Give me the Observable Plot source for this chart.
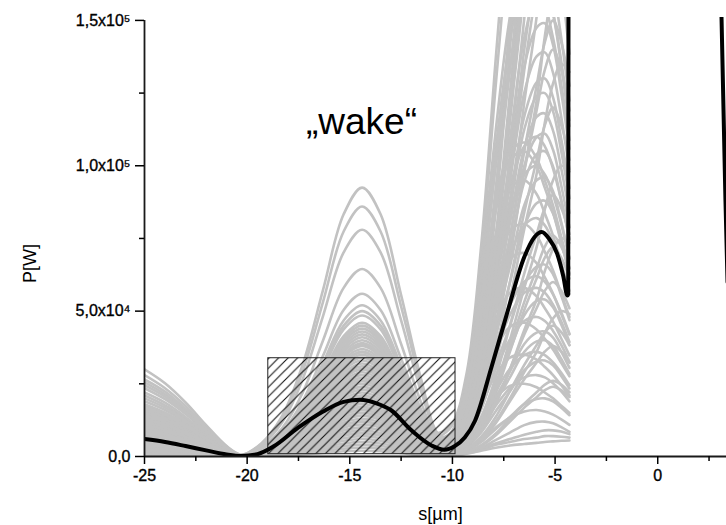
<!DOCTYPE html>
<html><head><meta charset="utf-8">
<script src="https://cdn.jsdelivr.net/npm/d3@7"></script>
<script src="https://cdn.jsdelivr.net/npm/@observablehq/plot@0.6"></script>
<style>
body{margin:0;background:#fff;}
g[aria-label$="tick label"] text{stroke:#000;stroke-width:0.35px;}
</style>
</head><body><div id="chart"></div>
<script>
// s positions (µm) shared by all grey shots
const gridS = [-25, -24, -23, -22, -21, -20.3, -19.3, -18.3, -17.3, -16.3, -15.3, -14.4, -13.5, -12.5, -11.5, -10.7, -10, -9.3, -8.6, -7.9, -7.2, -6.5, -5.9, -5.5, -5.1, -4.7, -4.3];
// grey shots, power in kW at gridS
const greyKW = [
[30, 25.2, 18.6, 10.8, 3.6, 0.6, 1.9, 5.7, 12.9, 23.6, 34.2, 38, 34.2, 22.8, 10.6, 8.1, 11.6, 29, 72.5, 136, 197, 261, 287, 290, 276, 244, 206],
[28, 23.5, 17.4, 10.1, 3.4, 0.6, 4.3, 12.9, 29.2, 53.3, 77.4, 86, 77.4, 51.6, 24.1, 6.7, 3, 9, 22.5, 45, 75, 105, 127.5, 142.5, 150, 142.5, 127.5],
[25.5, 21.4, 15.8, 9.2, 3.1, 0.5, 1, 3, 6.8, 12.4, 18, 20, 18, 12, 5.6, 6.6, 10.8, 27, 67.5, 127, 184, 243, 267, 270, 256, 227, 192],
[23.5, 19.7, 14.6, 8.5, 2.8, 0.5, 4.6, 13.9, 31.5, 57.4, 83.3, 92.5, 83.3, 55.5, 25.9, 7.8, 5.5, 15.4, 39.6, 68.2, 92.4, 106.7, 110, 106.7, 99, 88, 74.8],
[21, 17.6, 13, 7.6, 2.5, 0.4, 1.5, 4.5, 10.2, 18.6, 27, 30, 27, 18, 8.4, 4.3, 5, 15, 37.5, 75, 125, 175, 212, 237, 250, 237, 212],
[19, 16, 11.8, 6.8, 2.3, 0.4, 3.2, 9.7, 21.9, 40, 58, 64.5, 58, 38.7, 18.1, 5.9, 4, 12, 30, 60, 100, 140, 170, 190, 200, 190, 170],
[17.5, 14.7, 10.9, 6.3, 2.1, 0.4, 0.6, 1.8, 4.1, 7.4, 10.8, 12, 10.8, 7.2, 3.4, 4.3, 9, 25.2, 64.8, 111.6, 151.2, 174.6, 180, 174.6, 162, 144, 122.4],
[16.5, 13.9, 10.2, 5.9, 2, 0.3, 3.9, 11.7, 26.5, 48.4, 70.2, 78, 70.2, 46.8, 21.8, 7.7, 6, 14.9, 37.3, 70, 101.3, 134.1, 147.5, 149, 141.6, 125.2, 105.8],
[15.5, 13, 9.6, 5.6, 1.9, 0.3, 2.3, 6.9, 15.6, 28.5, 41.4, 46, 41.4, 27.6, 12.9, 5.6, 5.6, 13.9, 34.8, 65.3, 94.5, 125.1, 137.6, 139, 132, 116.8, 98.7],
[14.5, 12.2, 9, 5.2, 1.7, 0.3, 1.3, 3.9, 8.8, 16.1, 23.4, 26, 23.4, 15.6, 7.3, 4.1, 5, 12.5, 31.3, 58.8, 85, 112.5, 123.8, 125, 118.8, 105, 88.8],
[14, 11.8, 8.7, 5, 1.7, 0.3, 2.8, 8.4, 19, 34.7, 50.4, 56, 50.4, 33.6, 15.7, 5.6, 4.4, 11.1, 27.8, 52.2, 75.5, 99.9, 109.9, 111, 105.5, 93.2, 78.8],
[13, 10.9, 8.1, 4.7, 1.6, 0.3, 0.4, 1.2, 2.7, 5, 7.2, 8, 7.2, 4.8, 2.2, 3.9, 8.5, 23.8, 61.2, 105.4, 142.8, 164.9, 170, 164.9, 153, 136, 115.6],
[12.5, 10.5, 7.8, 4.5, 1.5, 0.3, 2.4, 7.3, 16.5, 30.1, 43.7, 48.5, 43.7, 29.1, 13.6, 5.9, 6, 18, 45, 90, 150, 210, 255, 285, 300, 285, 255],
[12, 10.1, 7.4, 4.3, 1.4, 0.2, 1.7, 5.1, 11.6, 21.1, 30.6, 34, 30.6, 20.4, 9.5, 3.8, 3.5, 8.8, 22, 41.4, 59.8, 79.2, 87.1, 88, 83.6, 73.9, 62.5],
[11, 9.2, 6.8, 4, 1.3, 0.2, 0.8, 2.4, 5.4, 9.9, 14.4, 16, 14.4, 9.6, 4.5, 4.2, 8, 22.4, 57.6, 99.2, 134.4, 155.2, 160, 155.2, 144, 128, 108.8],
[10.5, 8.8, 6.5, 3.8, 1.3, 0.2, 2.2, 6.6, 15, 27.3, 39.6, 44, 39.6, 26.4, 12.3, 4.2, 4.1, 11.5, 29.5, 50.8, 68.9, 79.5, 82, 79.5, 73.8, 65.6, 55.8],
[10, 8.4, 6.2, 3.6, 1.2, 0.2, 1.1, 3.3, 7.5, 13.6, 19.8, 22, 19.8, 13.2, 6.2, 2.6, 2.6, 6.6, 16.5, 31, 44.9, 59.4, 65.3, 66, 62.7, 55.4, 46.9],
[9.5, 8, 5.9, 3.4, 1.1, 0.2, 2.1, 6.3, 14.3, 26, 37.8, 42, 37.8, 25.2, 11.8, 3.1, 1.2, 3.6, 9, 18, 30, 42, 51, 57, 60, 57, 51],
[9, 7.6, 5.6, 3.2, 1.1, 0.2, 0.5, 1.5, 3.4, 6.2, 9, 10, 9, 6, 2.8, 2, 2.8, 8.4, 21, 42, 70, 98, 119, 133, 140, 133, 119],
[8.5, 7.1, 5.3, 3.1, 1, 0.2, 1.8, 5.4, 12.2, 22.3, 32.4, 36, 32.4, 21.6, 10.1, 3.3, 2.2, 5.4, 13.5, 25.4, 36.7, 48.6, 53.5, 54, 51.3, 45.4, 38.3],
[8, 6.7, 5, 2.9, 1, 0.2, 1.4, 4.2, 9.5, 17.4, 25.2, 28, 25.2, 16.8, 7.8, 2.7, 2.4, 6.7, 17.3, 29.8, 40.3, 46.6, 48, 46.6, 43.2, 38.4, 32.6],
[7.5, 6.3, 4.7, 2.7, 0.9, 0.2, 2, 6, 13.6, 24.8, 36, 40, 36, 24, 11.2, 3.3, 1.7, 4.3, 10.8, 20.2, 29.2, 38.7, 42.6, 43, 40.9, 36.1, 30.5],
[7, 5.9, 4.3, 2.5, 0.8, 0.1, 0.3, 0.9, 2, 3.7, 5.4, 6, 5.4, 3.6, 1.7, 0.8, 0.8, 2.3, 5.7, 11.4, 19, 26.6, 32.3, 36.1, 38, 36.1, 32.3],
[6.5, 5.5, 4, 2.3, 0.8, 0.1, 1.6, 4.8, 10.9, 19.8, 28.8, 32, 28.8, 19.2, 9, 2.6, 1.3, 3.3, 8.3, 15.5, 22.4, 29.7, 32.7, 33, 31.4, 27.7, 23.4],
[6, 5, 3.7, 2.2, 0.7, 0.1, 0.9, 2.7, 6.1, 11.2, 16.2, 18, 16.2, 10.8, 5, 1.7, 1.4, 3.9, 10.1, 17.4, 23.5, 27.2, 28, 27.2, 25.2, 22.4, 19],
[5.5, 4.6, 3.4, 2, 0.7, 0.1, 1.2, 3.6, 8.2, 14.9, 21.6, 24, 21.6, 14.4, 6.7, 1.6, 0.5, 1.4, 3.6, 7.2, 12, 16.8, 20.4, 22.8, 24, 22.8, 20.4],
[5, 4.2, 3.1, 1.8, 0.6, 0.1, 0.7, 2.1, 4.8, 8.7, 12.6, 14, 12.6, 8.4, 3.9, 1.2, 0.8, 2, 5, 9.4, 13.6, 18, 19.8, 20, 19, 16.8, 14.2],
[4.5, 3.8, 2.8, 1.6, 0.5, 0.1, 1.5, 4.5, 10.2, 18.6, 27, 30, 27, 18, 8.4, 2.1, 0.8, 2.2, 5.8, 9.9, 13.4, 15.5, 16, 15.5, 14.4, 12.8, 10.9],
[4, 3.4, 2.5, 1.4, 0.5, 0.1, 0.2, 0.6, 1.4, 2.5, 3.6, 4, 3.6, 2.4, 1.1, 0.4, 0.5, 1.2, 3, 5.6, 8.2, 10.8, 11.9, 12, 11.4, 10.1, 8.5],
[3.5, 2.9, 2.2, 1.3, 0.4, 0.1, 1.9, 5.8, 13.1, 23.9, 34.7, 38.5, 34.7, 23.1, 10.8, 2.4, 0.5, 1.2, 2.5, 4.5, 6, 7.5, 8.5, 9, 9, 8.6, 7.7],
[3, 2.5, 1.9, 1.1, 0.4, 0.1, 0.6, 1.8, 4.1, 7.4, 10.8, 12, 10.8, 7.2, 3.4, 0.8, 0.4, 1, 2.2, 4, 5, 6, 6.5, 7, 7, 6.8, 6.5],
[2.5, 2.1, 1.6, 0.9, 0.3, 0, 1.4, 4.1, 9.2, 16.7, 24.3, 27, 24.3, 16.2, 7.6, 2.8, 2.4, 7.2, 18, 36, 60, 84, 102, 114, 120, 114, 102],
[2, 1.7, 1.2, 0.7, 0.2, 0, 1, 3, 6.8, 12.4, 18, 20, 18, 12, 5.6, 3.2, 5, 14, 36, 62, 84, 97, 100, 97, 90, 80, 68],
[1.5, 1.3, 0.9, 0.5, 0.2, 0, 0.4, 1.2, 2.7, 5, 7.2, 8, 7.2, 4.8, 2.2, 1.2, 1.4, 4.3, 10.8, 21.6, 36, 50.4, 61.2, 68.4, 72, 68.4, 61.2],
[1, 0.8, 0.6, 0.4, 0.1, 0, 0.8, 2.4, 5.4, 9.9, 14.4, 16, 14.4, 9.6, 4.5, 3.3, 4.6, 13.8, 34.5, 69, 115, 161, 195.5, 218.5, 230, 218.5, 195.5],
[0.5, 0.4, 0.3, 0.2, 0.1, 0, 0.2, 0.5, 1, 1.9, 2.7, 3, 2.7, 1.8, 0.8, 0.2, 0.3, 1, 2, 3, 3.8, 4.3, 4.7, 5, 5.2, 5.4, 5.5],
[18, 15.1, 11.2, 6.5, 2.2, 0.4, 0.3, 0.8, 1.7, 3.1, 4.5, 5, 4.5, 3, 1.4, 0.8, 0.9, 2.7, 6.8, 13.5, 22.5, 31.5, 38.3, 42.8, 45, 42.8, 38.3],
[16, 13.4, 9.9, 5.8, 1.9, 0.3, 1.8, 5.3, 11.9, 21.7, 31.5, 35, 31.5, 21, 9.8, 3, 1.8, 5.4, 13.5, 27, 45, 63, 76.5, 85.5, 90, 85.5, 76.5],
[20, 16.8, 12.4, 7.2, 2.4, 0.4, 0.1, 0.3, 0.7, 1.2, 1.8, 2, 1.8, 1.2, 0.6, 2.7, 5.2, 13, 32.5, 61.1, 88.4, 117, 128.7, 130, 123.5, 109.2, 92.3],
[11.5, 9.7, 7.1, 4.1, 1.4, 0.2, 2.3, 6.8, 15.3, 27.9, 40.5, 45, 40.5, 27, 12.6, 3.4, 1.8, 5, 13, 22.3, 30.2, 34.9, 36, 34.9, 32.4, 28.8, 24.5],
[13.5, 11.3, 8.4, 4.9, 1.6, 0.3, 0.8, 2.3, 5.1, 9.3, 13.5, 15, 13.5, 9, 4.2, 2.8, 3.8, 11.4, 28.5, 57, 95, 133, 161.5, 180.5, 190, 180.5, 161.5],
[22, 18.5, 13.6, 7.9, 2.6, 0.4, 2.2, 6.5, 14.6, 26.7, 38.7, 43, 38.7, 25.8, 12, 3.8, 2.9, 8.1, 20.9, 36, 48.7, 56.3, 58, 56.3, 52.2, 46.4, 39.4],
[9, 7.6, 5.6, 3.2, 1.1, 0.2, 1.3, 3.8, 8.5, 15.5, 22.5, 25, 22.5, 15, 7, 3.6, 4.2, 10.5, 26.3, 49.4, 71.4, 94.5, 104, 105, 99.8, 88.2, 74.6],
[7, 5.9, 4.3, 2.5, 0.8, 0.1, 2.5, 7.5, 17, 31, 45, 50, 45, 30, 14, 3.3, 0.5, 1.6, 3.9, 7.8, 13, 18.2, 22.1, 24.7, 26, 24.7, 22.1],
[15, 12.6, 9.3, 5.4, 1.8, 0.3, 1, 2.9, 6.5, 11.8, 17.1, 19, 17.1, 11.4, 5.3, 4.3, 8.4, 23.1, 52.5, 84, 101.9, 105, 99.8, 92.4, 84, 73.5, 63],
[12, 10.1, 7.4, 4.3, 1.4, 0.2, 1.8, 5.4, 12.2, 22.3, 32.4, 36, 32.4, 21.6, 10.1, 5.1, 7.6, 20.9, 47.5, 76, 92.2, 95, 90.3, 83.6, 76, 66.5, 57],
[10, 8.4, 6.2, 3.6, 1.2, 0.2, 0.6, 1.7, 3.7, 6.8, 9.9, 11, 9.9, 6.6, 3.1, 3.1, 6.4, 17.6, 40, 64, 77.6, 80, 76, 70.4, 64, 56, 48],
[8, 6.7, 5, 2.9, 1, 0.2, 1.5, 4.5, 10.2, 18.6, 27, 30, 27, 18, 8.4, 3.9, 5.6, 15.4, 35, 56, 67.9, 70, 66.5, 61.6, 56, 49, 42],
[6, 5, 3.7, 2.2, 0.7, 0.1, 1.1, 3.2, 7.1, 13, 18.9, 21, 18.9, 12.6, 5.9, 3, 4.6, 12.8, 29, 46.4, 56.3, 58, 55.1, 51, 46.4, 40.6, 34.8],
[5, 4.2, 3.1, 1.8, 0.6, 0.1, 2.1, 6.2, 13.9, 25.4, 36.9, 41, 36.9, 24.6, 11.5, 3.9, 3.7, 10.1, 23, 36.8, 44.6, 46, 43.7, 40.5, 36.8, 32.2, 27.6],
[4, 3.4, 2.5, 1.4, 0.5, 0.1, 0.5, 1.4, 3.1, 5.6, 8.1, 9, 8.1, 5.4, 2.5, 1.6, 2.8, 7.7, 17.5, 28, 34, 35, 33.3, 30.8, 28, 24.5, 21],
[3, 2.5, 1.9, 1.1, 0.4, 0.1, 0.9, 2.6, 5.8, 10.5, 15.3, 17, 15.3, 10.2, 4.8, 1.8, 2, 5.5, 12.5, 20, 24.3, 25, 23.8, 22, 20, 17.5, 15],
[14, 11.8, 8.7, 5, 1.7, 0.3, 1.4, 4.1, 9.2, 16.7, 24.3, 27, 24.3, 16.2, 7.6, 5.1, 7, 17.5, 42, 84, 140, 203, 252, 297.5, 332.5, 350, 343],
[11, 9.2, 6.8, 4, 1.3, 0.2, 1.9, 5.6, 12.6, 22.9, 33.3, 37, 33.3, 22.2, 10.4, 4.8, 5.2, 13, 31.2, 62.4, 104, 150.8, 187.2, 221, 247, 260, 254.8],
[9, 7.6, 5.6, 3.2, 1.1, 0.2, 0.7, 2, 4.4, 8.1, 11.7, 13, 11.7, 7.8, 3.6, 2.9, 4.2, 10.5, 25.2, 50.4, 84, 121.8, 151.2, 178.5, 199.5, 210, 205.8],
[7, 5.9, 4.3, 2.5, 0.8, 0.1, 1.7, 5, 11.2, 20.5, 29.7, 33, 29.7, 19.8, 9.2, 3.7, 3.4, 8.5, 20.4, 40.8, 68, 98.6, 122.4, 144.5, 161.5, 170, 166.6],
[5, 4.2, 3.1, 1.8, 0.6, 0.1, 1.2, 3.5, 7.8, 14.3, 20.7, 23, 20.7, 13.8, 6.4, 2.8, 2.7, 6.8, 16.2, 32.4, 54, 78.3, 97.2, 114.8, 128.3, 135, 132.3],
[3, 2.5, 1.9, 1.1, 0.4, 0.1, 0.4, 1.1, 2.4, 4.3, 6.3, 7, 6.3, 4.2, 2, 1.4, 2, 5, 12, 24, 40, 58, 72, 85, 95, 100, 98],
[2, 1.7, 1.2, 0.7, 0.2, 0, 1.5, 4.4, 9.9, 18, 26.1, 29, 26.1, 17.4, 8.1, 2.5, 1.5, 3.8, 9, 18, 30, 43.5, 54, 63.8, 71.3, 75, 73.5],
[1, 0.8, 0.6, 0.4, 0.1, 0, 1, 2.9, 6.5, 11.8, 17.1, 19, 17.1, 11.4, 5.3, 1.6, 1, 2.5, 6, 12, 20, 29, 36, 42.5, 47.5, 50, 49],
[17, 14.3, 10.5, 6.1, 2, 0.3, 1.6, 4.7, 10.5, 19.2, 27.9, 31, 27.9, 18.6, 8.7, 6.2, 8.6, 21.5, 53.8, 101, 146.2, 193.5, 212.9, 215, 204.3, 180.6, 152.7],
[13, 10.9, 8.1, 4.7, 1.6, 0.3, 1.2, 3.6, 8.2, 14.9, 21.6, 24, 21.6, 14.4, 6.7, 5.3, 7.8, 19.5, 48.8, 91.7, 132.6, 175.5, 193, 195, 185.3, 163.8, 138.5],
[8, 6.7, 5, 2.9, 1, 0.2, 2, 5.9, 13.3, 24.2, 35.1, 39, 35.1, 23.4, 10.9, 5.5, 6.4, 16, 40, 75.2, 108.8, 144, 158.4, 160, 152, 134.4, 113.6],
[6, 5, 3.7, 2.2, 0.7, 0.1, 0.5, 1.5, 3.4, 6.2, 9, 10, 9, 6, 2.8, 3, 4.7, 11.8, 29.5, 55.5, 80.2, 106.2, 116.8, 118, 112.1, 99.1, 83.8],
[4, 3.4, 2.5, 1.4, 0.5, 0.1, 1.3, 3.9, 8.8, 16.1, 23.4, 26, 23.4, 15.6, 7.3, 3.5, 3.8, 9.6, 24, 45.1, 65.3, 86.4, 95, 96, 91.2, 80.6, 68.2],
[2.5, 2.1, 1.6, 0.9, 0.3, 0, 0.7, 2.1, 4.8, 8.7, 12.6, 14, 12.6, 8.4, 3.9, 1.6, 1.5, 4.6, 11.4, 22.8, 38, 53.2, 64.6, 72.2, 76, 72.2, 64.6],
[1.5, 1.3, 0.9, 0.5, 0.2, 0, 1.8, 5.3, 11.9, 21.7, 31.5, 35, 31.5, 21, 9.8, 3.3, 3.1, 8.7, 22.3, 38.4, 52.1, 60.1, 62, 60.1, 55.8, 49.6, 42.2],
[0.8, 0.7, 0.5, 0.3, 0.1, 0, 1.1, 3.2, 7.1, 13, 18.9, 21, 18.9, 12.6, 5.9, 2.1, 1.6, 4, 10, 18.8, 27.2, 36, 39.6, 40, 38, 33.6, 28.4],
[26.5, 22.3, 16.4, 9.5, 3.2, 0.5, 0.9, 2.6, 5.8, 10.5, 15.3, 17, 15.3, 10.2, 4.8, 3.4, 4.8, 14.4, 36, 72, 120, 168, 204, 228, 240, 228, 204],
[24.5, 20.6, 15.2, 8.8, 2.9, 0.5, 2.6, 7.8, 17.7, 32.2, 46.8, 52, 46.8, 31.2, 14.6, 6.3, 8.6, 23.8, 54, 86.4, 104.8, 108, 102.6, 95, 86.4, 75.6, 64.8]
];
// highlighted (black) shot
const blackS  = [-25, -24, -23, -22, -21, -20.3, -19.5, -18.7, -17.5, -16.3, -15.3, -14.5, -13.7, -13, -12, -11, -10.4, -9.9, -9.4, -8.9, -8.1, -7.3, -6.5, -6, -5.65, -5.3, -4.9, -4.6, -4.4, -4.36, -4.34];
const blackKW = [6, 5, 3.6, 2.1, 0.7, 0.2, 0.8, 3.5, 10, 15.5, 18.8, 19.5, 18.3, 16, 9, 3.7, 2.3, 3.5, 6.5, 12.3, 30.7, 50.2, 68.6, 75.5, 77.2, 75, 69.8, 62, 55.4, 56, 200];
// main pulse edge (black) entering at right
const pulseS  = [3.08, 3.3, 3.4];
const pulseKW = [160, 88, 60];
// hatched region
const boxS  = [-18.97, -9.85];
const boxKW = [0.8, 33.8];
// annotation
const noteText = "„wake“";
const noteS = -14.43, noteKW = 110.8;
// axes
const xTicks = [-25, -20, -15, -10, -5, 0];
const xTickLabels = ["-25", "-20", "-15", "-10", "-5", "0"];
const xMinor = [-22.5, -17.5, -12.5, -7.5, -2.5, 2.5];
const yTicks = [0, 50000, 100000, 150000];
const yTickLabels = ["0,0", "5,0x10⁴", "1,0x10⁵", "1,5x10⁵"];
const yMinor = [25000, 75000, 125000];
const xLabel = "s[µm]";
const yLabel = "P[W]";

const greyRows = greyKW.flatMap((vals, k) => vals.map((v, i) => ({s: gridS[i], p: v * 1000, k})));
const blackRows = blackS.map((s, i) => ({s, p: blackKW[i] * 1000}));
const pulseRows = pulseS.map((s, i) => ({s, p: pulseKW[i] * 1000}));
const box = {x1: boxS[0], x2: boxS[1], y1: boxKW[0] * 1000, y2: boxKW[1] * 1000};

const chart = Plot.plot({
  width: 726, height: 525,
  marginLeft: 144, marginRight: 0, marginTop: 17, marginBottom: 69,
  style: {fontFamily: "'Liberation Sans', Arial, sans-serif", fontSize: "16px", background: "#fff", color: "#000"},
  x: {domain: [-25, 3.35], label: null},
  y: {domain: [0, 151000], label: null},
  marks: [
    Plot.line(greyRows, {x: "s", y: "p", z: "k", stroke: "#c2c2c2", strokeWidth: 2.6, curve: "catmull-rom", clip: true}),
    Plot.rect([box], {x1: "x1", x2: "x2", y1: "y1", y2: "y2", fill: "url(#hatch)", stroke: "#222", strokeWidth: 1}),
    Plot.line(blackRows, {x: "s", y: "p", stroke: "#000", strokeWidth: 4, curve: "monotone-x", clip: true}),
    Plot.line(pulseRows, {x: "s", y: "p", stroke: "#000", strokeWidth: 4, clip: true}),
    Plot.ruleX([xTicks[0]], {y1: yTicks[0], y2: yTicks[yTicks.length - 1], stroke: "#1a1a1a", strokeWidth: 1.8}),
    Plot.ruleY([yTicks[0]], {stroke: "#1a1a1a", strokeWidth: 1.8}),
    Plot.axisX({ticks: xTicks, tickSize: 8, tickPadding: 5, strokeWidth: 1.5, fontSize: 16, label: null,
      tickFormat: d => xTickLabels[xTicks.indexOf(d)]}),
    Plot.axisX({ticks: xMinor, tickSize: 5, strokeWidth: 1.5, label: null, tickFormat: () => ""}),
    Plot.axisY({ticks: yTicks, tickSize: 9, tickPadding: 5, strokeWidth: 1.5, fontSize: 16, label: null,
      tickFormat: d => yTickLabels[yTicks.indexOf(d)]}),
    Plot.axisY({ticks: yMinor, tickSize: 5, strokeWidth: 1.5, label: null, tickFormat: () => ""}),
    Plot.text([noteText], {x: () => noteS, y: () => noteKW * 1000, text: d => d, fontSize: 37, lineAnchor: "bottom", fill: "#000"}),
    Plot.text([yLabel], {frameAnchor: "left", text: d => d, dx: -114, dy: 46, rotate: -90, fontSize: 18}),
    Plot.text([xLabel], {frameAnchor: "bottom", text: d => d, dx: 5, dy: 63, fontSize: 18})
  ]
});

d3.select(chart).insert("defs", ":first-child").html(
  '<pattern id="hatch" patternUnits="userSpaceOnUse" width="9.5" height="9.5">' +
  '<path d="M-1,1 L1,-1 M0,9.5 L9.5,0 M8.5,10.5 L10.5,8.5" stroke="#111" stroke-width="1.1"/></pattern>'
);
document.getElementById("chart").appendChild(chart);
</script>
</body></html>
